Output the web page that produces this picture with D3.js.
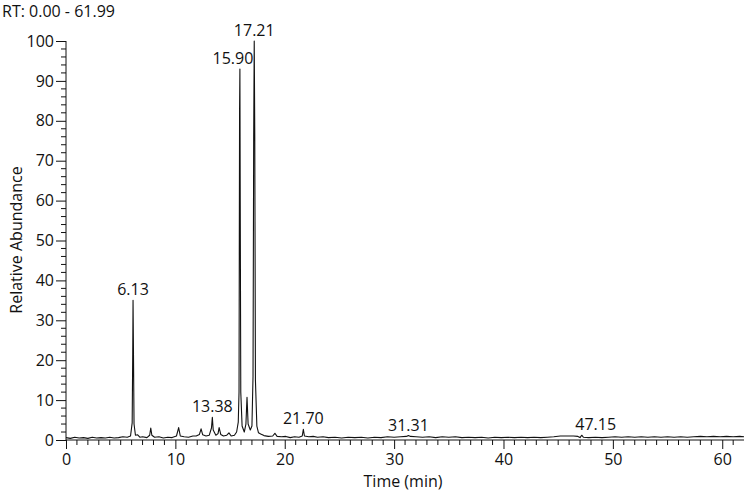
<!DOCTYPE html>
<html>
<head>
<meta charset="utf-8">
<script src="https://cdn.jsdelivr.net/npm/d3@7"></script>
<style>
  body { margin: 0; background: #fff; }
  text { font-family: "Open Sans", "Noto Sans", sans-serif; fill: #111; }
</style>
</head>
<body>
<svg id="chrom" width="747" height="493"></svg>
<script>
// values
var rtTitle = "RT: 0.00 - 61.99";
var xTicks = [0, 10, 20, 30, 40, 50, 60];
var yTicks = [0, 10, 20, 30, 40, 50, 60, 70, 80, 90, 100];

// labelled peaks: retention time, relative abundance at apex
var peakTimes = [6.13, 13.38, 15.90, 17.21, 21.70, 31.31, 47.15];
var peakHeights = [35, 5.7, 93, 100, 2.7, 1.0, 1.2];

// the trace itself, [time, abundance]
var trace = [
  [0.0, 0.6], [0.4, 0.4], [0.8, 0.7], [1.2, 0.5], [1.6, 0.6], [2.0, 0.4],
  [2.4, 0.7], [2.8, 0.5], [3.2, 0.6], [3.6, 0.5], [4.0, 0.7], [4.4, 0.5],
  [4.8, 0.6], [5.2, 0.8], [5.6, 0.7], [5.9, 1.0], [6.05, 4.3], [6.10, 21.5],
  [6.13, 35.0], [6.17, 21.5], [6.22, 4.0], [6.35, 1.2], [6.55, 1.3], [6.75, 0.7],
  [7.0, 0.8], [7.4, 0.6], [7.65, 1.2], [7.75, 3.0], [7.85, 1.2], [8.1, 0.7],
  [8.5, 0.8], [8.9, 0.5], [9.3, 0.7], [9.7, 0.6], [10.1, 1.0], [10.3, 3.1],
  [10.45, 1.0], [10.8, 0.8], [11.2, 0.7], [11.6, 1.0], [11.9, 1.0], [12.2, 1.4],
  [12.35, 2.8], [12.5, 1.3], [12.8, 1.0], [13.1, 1.2], [13.3, 3.0], [13.38, 5.7],
  [13.46, 2.5], [13.7, 1.2], [13.9, 1.6], [14.0, 3.1], [14.15, 1.4], [14.4, 1.0],
  [14.7, 1.2], [14.9, 1.8], [15.1, 1.0], [15.4, 1.2], [15.6, 2.0], [15.75, 4.5],
  [15.82, 12.0], [15.87, 83], [15.90, 93], [15.93, 60], [15.98, 12], [16.1, 3.5],
  [16.3, 2.0], [16.45, 4.0], [16.55, 10.7], [16.65, 4.0], [16.85, 2.5], [17.0, 3.5],
  [17.1, 16], [17.16, 76], [17.21, 100], [17.26, 76], [17.32, 15], [17.45, 3.5],
  [17.6, 1.8], [17.8, 1.5], [18.1, 1.1], [18.5, 0.9], [18.9, 1.0], [19.1, 1.7],
  [19.3, 0.9], [19.7, 0.8], [20.1, 0.9], [20.5, 0.6], [20.9, 0.8], [21.3, 0.7],
  [21.6, 1.0], [21.70, 2.7], [21.8, 1.0], [22.2, 0.8], [22.6, 0.9], [23.0, 0.7],
  [23.5, 0.8], [24.0, 0.6], [24.6, 0.7], [25.2, 0.5], [25.8, 0.7], [26.4, 0.6],
  [27.0, 0.7], [27.6, 0.5], [28.2, 0.7], [28.8, 0.6], [29.4, 0.8], [30.0, 0.7],
  [30.6, 0.8], [31.1, 0.9], [31.31, 1.1], [31.5, 0.9], [32.0, 0.8], [32.6, 0.7],
  [33.2, 0.8], [33.8, 0.6], [34.4, 0.8], [35.0, 0.7], [35.6, 0.8], [36.2, 0.6],
  [36.8, 0.7], [37.4, 0.6], [38.0, 0.7], [38.6, 0.5], [39.2, 0.7], [39.8, 0.6],
  [40.4, 0.7], [41.0, 0.6], [41.6, 0.7], [42.2, 0.6], [42.8, 0.7], [43.4, 0.6],
  [44.0, 0.7], [44.6, 0.8], [45.2, 1.0], [45.8, 1.0], [46.4, 1.0], [46.8, 0.9],
  [47.0, 0.6], [47.15, 1.2], [47.3, 0.7], [47.8, 0.6], [48.4, 0.7], [49.0, 0.6],
  [49.6, 0.7], [50.2, 0.8], [50.8, 0.7], [51.4, 0.8], [52.0, 0.7], [52.6, 0.8],
  [53.2, 0.7], [53.8, 0.8], [54.4, 0.7], [55.0, 0.8], [55.6, 0.7], [56.2, 0.8],
  [56.8, 0.7], [57.4, 0.8], [58.0, 0.9], [58.6, 0.8], [59.2, 0.9], [59.8, 0.8],
  [60.4, 0.9], [61.0, 0.8], [61.6, 0.9], [61.99, 0.8]
];

var svg = d3.select("#chrom");

// plot area edges in pixels (not "top": that name is taken by window.top)
var plotLeft = 66, plotRight = 744, plotTop = 41, plotBottom = 440;

var xScale = d3.scaleLinear().domain([0, 61.99]).range([plotLeft, plotRight]);
var yScale = d3.scaleLinear().domain([0, 100]).range([plotBottom, plotTop]);

// RT range in top left corner
svg.append("text")
  .attr("x", 2)
  .attr("y", 17)
  .style("font-size", "16px")
  .text(rtTitle);

// y axis: major ticks every 10, minor every 2, pointing left
var yAxis = d3.axisLeft(yScale).tickValues(yTicks).tickSize(10).tickPadding(2).tickFormat(d3.format("d"));
var yg = svg.append("g").attr("transform", "translate(" + plotLeft + ",0)").call(yAxis);
yg.select(".domain").attr("d", "M0," + plotBottom + "V" + plotTop);
yg.selectAll(".minor")
  .data(d3.range(0, 101, 2).filter((d) => d % 10 !== 0))
  .enter()
  .append("line")
  .attr("class", "minor")
  .attr("x1", -5)
  .attr("x2", 0)
  .attr("y1", (d) => yScale(d))
  .attr("y2", (d) => yScale(d))
  .attr("stroke", "#111");

// x axis: major ticks every 10, minor every 1, pointing down
var xAxis = d3.axisBottom(xScale).tickValues(xTicks).tickSize(9).tickPadding(5).tickFormat(d3.format("d"));
var xg = svg.append("g").attr("transform", "translate(0," + plotBottom + ")").call(xAxis);
xg.select(".domain").attr("d", "M" + plotLeft + ",0H" + plotRight);
xg.selectAll(".minor")
  .data(d3.range(1, 62).filter((d) => d % 10 !== 0))
  .enter()
  .append("line")
  .attr("class", "minor")
  .attr("x1", (d) => xScale(d))
  .attr("x2", (d) => xScale(d))
  .attr("y1", 0)
  .attr("y2", 5)
  .attr("stroke", "#111");

svg.selectAll(".tick text").style("font-size", "16px").attr("fill", "#111");
svg.selectAll(".tick line, .domain").attr("stroke", "#111");

// axis titles
svg.append("text")
  .attr("transform", "translate(22,240) rotate(-90)")
  .attr("text-anchor", "middle")
  .style("font-size", "16px")
  .text("Relative Abundance");

svg.append("text")
  .attr("x", 403)
  .attr("y", 487)
  .attr("text-anchor", "middle")
  .style("font-size", "16px")
  .text("Time (min)");

// chromatogram trace
svg.append("path")
  .datum(trace)
  .attr("fill", "none")
  .attr("stroke", "#111")
  .attr("stroke-width", 1.1)
  .attr("stroke-linejoin", "round")
  .attr("d", d3.line().x((d) => xScale(d[0])).y((d) => yScale(d[1])));

// peak labels, nudged sideways where they would overlap
var nudge = { "15.90": -7, "47.15": 14 };
svg.selectAll(".peak")
  .data(peakTimes)
  .enter()
  .append("text")
  .attr("class", "peak")
  .attr("x", (d) => xScale(d) + (nudge[d.toFixed(2)] || 0))
  .attr("y", (d, i) => yScale(peakHeights[i]) - 5)
  .attr("text-anchor", "middle")
  .style("font-size", "16px")
  .text((d) => d.toFixed(2));
</script>
</body>
</html>
